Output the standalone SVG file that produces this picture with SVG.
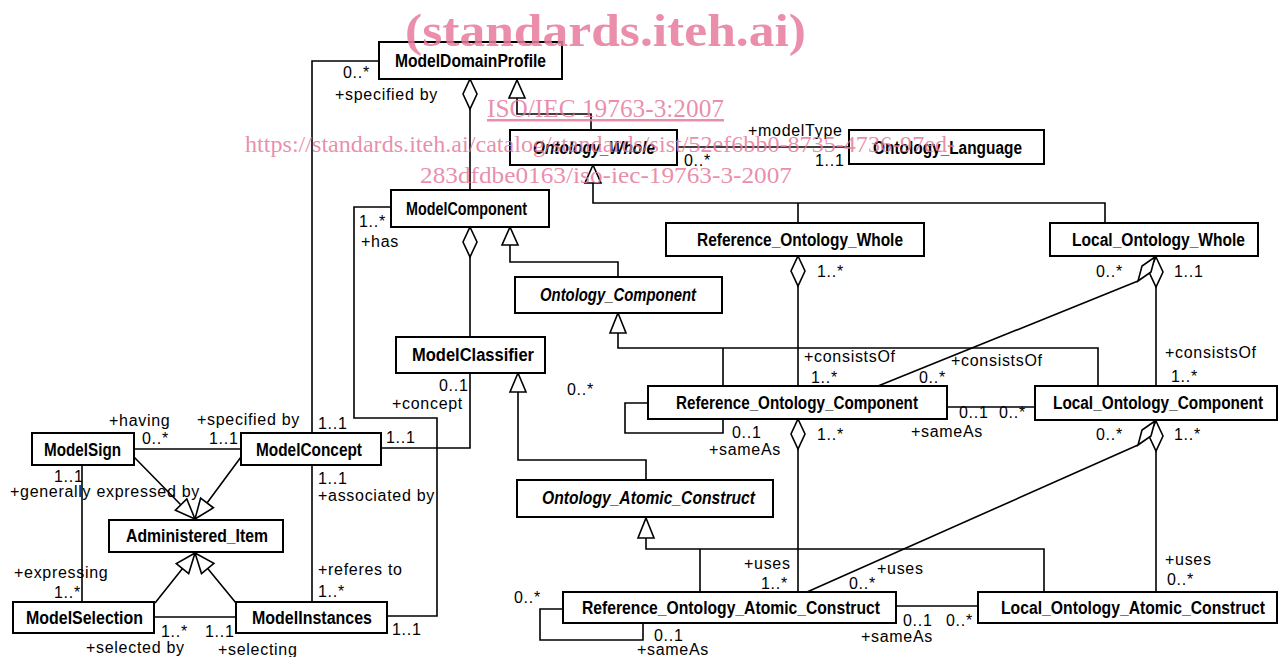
<svg xmlns="http://www.w3.org/2000/svg" width="1288" height="657" viewBox="0 0 1288 657">
<style>
.box{fill:#fff;stroke:#000;stroke-width:2}
.nt{font-family:"Liberation Sans",Arial,sans-serif;font-size:18px;font-weight:bold;fill:#000;text-anchor:start}
.it{font-style:italic}
.lb{font-family:"Liberation Sans",Arial,sans-serif;font-size:16px;letter-spacing:0.7px;fill:#000}
.ln{fill:none;stroke:#000;stroke-width:1.6}
.hd{fill:#fff;stroke:#000;stroke-width:1.6;stroke-linejoin:miter}
.wm{font-family:"Liberation Serif","Times New Roman",serif;fill:#e77a9c;fill-opacity:0.85}
</style>
<rect width="1288" height="657" fill="#fff"/>
<g id="connectors">
<path class="ln" d="M379,61 H312 V433"/>
<path class="ln" d="M470,109 V190"/>
<path class="ln" d="M517,98 V114 H591 V130"/>
<path class="ln" d="M593,183 V203 H1105 V223 M798,203 V223"/>
<path class="ln" d="M677,147 H849"/>
<path class="ln" d="M510,245 V262 H618 V277"/>
<path class="ln" d="M470,257 V337"/>
<path class="ln" d="M391,207 H354 V418 H437 V616 H387"/>
<path class="ln" d="M470,373 V448 H381"/>
<path class="ln" d="M312,465 V602"/>
<path class="ln" d="M134,449 H241"/>
<path class="ln" d="M134,457 L181,505 M241,457 L207,503 M155,603 L182.5,568.6 M236,603 L207.7,568.5"/>
<path class="ln" d="M82,465 V602"/>
<path class="ln" d="M154,617 H236"/>
<path class="ln" d="M518,392 V460 H646 V480"/>
<path class="ln" d="M618,333 V348 H1098 V386 M723,348 V386"/>
<path class="ln" d="M798,286 V386"/>
<path class="ln" d="M1156,287 V386"/>
<path class="ln" d="M1138,281 L878,386"/>
<path class="ln" d="M648,403 H625 V433 H723 V419"/>
<path class="ln" d="M947,407 H1035"/>
<path class="ln" d="M798,449 V592"/>
<path class="ln" d="M1156,451 V592"/>
<path class="ln" d="M1138,445 L807,592"/>
<path class="ln" d="M646,538 V549 H1044 V592 M700,549 V592"/>
<path class="ln" d="M563,609 H540 V640 H643 V623"/>
<path class="ln" d="M896,606 H978"/>
<path class="hd" d="M470,79 L477,94 L470,109 L463,94 Z"/>
<path class="hd" d="M517,80 L525,98 L509,98 Z"/>
<path class="hd" d="M593,165 L601,183 L585,183 Z"/>
<path class="hd" d="M510,227 L518,245 L502,245 Z"/>
<path class="hd" d="M470,227 L477,242 L470,257 L463,242 Z"/>
<path class="hd" d="M195,519 L175.4,510.2 L186.8,499 Z"/>
<path class="hd" d="M195,519 L213.4,507.8 L200.6,498.2 Z"/>
<path class="hd" d="M195,553 L188.7,573.6 L176.3,563.6 Z"/>
<path class="hd" d="M195,553 L213.9,563.4 L201.5,573.6 Z"/>
<path class="hd" d="M518,373 L526,392 L510,392 Z"/>
<path class="hd" d="M618,313 L626,333 L610,333 Z"/>
<path class="hd" d="M798,256 L805,271 L798,286 L791,271 Z"/>
<path class="hd" d="M1156,257 L1163,272 L1156,287 L1149,272 Z"/>
<path class="hd" d="M1155,257 L1151,272 L1138,281 L1142,266 Z"/>
<path class="hd" d="M798,419 L805,434 L798,449 L791,434 Z"/>
<path class="hd" d="M1156,421 L1163,436 L1156,451 L1149,436 Z"/>
<path class="hd" d="M1155,421 L1151,436 L1138,445 L1142,430 Z"/>
<path class="hd" d="M646,518 L654,538 L638,538 Z"/>
</g>
<g id="labels">
<text class="lb" x="343" y="78">0..*</text>
<text class="lb" x="335" y="100">+specified by</text>
<text class="lb" x="748" y="136">+modelType</text>
<text class="lb" x="684" y="166">0..*</text>
<text class="lb" x="815" y="166">1..1</text>
<text class="lb" x="359" y="227">1..*</text>
<text class="lb" x="361" y="247">+has</text>
<text class="lb" x="817" y="277">1..*</text>
<text class="lb" x="1096" y="277">0..*</text>
<text class="lb" x="1174" y="277">1..1</text>
<text class="lb" x="804" y="362">+consistsOf</text>
<text class="lb" x="811" y="383">1..*</text>
<text class="lb" x="951" y="366">+consistsOf</text>
<text class="lb" x="919" y="383">0..*</text>
<text class="lb" x="1165" y="358">+consistsOf</text>
<text class="lb" x="1171" y="382">1..*</text>
<text class="lb" x="567" y="395">0..*</text>
<text class="lb" x="439" y="391">0..1</text>
<text class="lb" x="392" y="409">+concept</text>
<text class="lb" x="109" y="426">+having</text>
<text class="lb" x="197" y="425">+specified by</text>
<text class="lb" x="318" y="429">1..1</text>
<text class="lb" x="142" y="444">0..*</text>
<text class="lb" x="209" y="444">1..1</text>
<text class="lb" x="386" y="443">1..1</text>
<text class="lb" x="732" y="438">0..1</text>
<text class="lb" x="709" y="455">+sameAs</text>
<text class="lb" x="817" y="440">1..*</text>
<text class="lb" x="959" y="418">0..1</text>
<text class="lb" x="999" y="418">0..*</text>
<text class="lb" x="911" y="437">+sameAs</text>
<text class="lb" x="1096" y="440">0..*</text>
<text class="lb" x="1174" y="440">1..*</text>
<text class="lb" x="54" y="482">1..1</text>
<text class="lb" x="10" y="497">+generally expressed by</text>
<text class="lb" x="318" y="484">1..1</text>
<text class="lb" x="318" y="501">+associated by</text>
<text class="lb" x="14" y="578">+expressing</text>
<text class="lb" x="54" y="598">1..*</text>
<text class="lb" x="318" y="575">+referes to</text>
<text class="lb" x="318" y="597">1..*</text>
<text class="lb" x="744" y="569">+uses</text>
<text class="lb" x="761" y="589">1..*</text>
<text class="lb" x="877" y="574">+uses</text>
<text class="lb" x="849" y="589">0..*</text>
<text class="lb" x="1165" y="565">+uses</text>
<text class="lb" x="1167" y="585">0..*</text>
<text class="lb" x="514" y="603">0..*</text>
<text class="lb" x="903" y="626">0..1</text>
<text class="lb" x="946" y="626">0..*</text>
<text class="lb" x="861" y="642">+sameAs</text>
<text class="lb" x="654" y="641">0..1</text>
<text class="lb" x="637" y="655">+sameAs</text>
<text class="lb" x="161" y="637">1..*</text>
<text class="lb" x="205" y="637">1..1</text>
<text class="lb" x="392" y="635">1..1</text>
<text class="lb" x="86" y="653">+selected by</text>
<text class="lb" x="218" y="655">+selecting</text>
</g>
<g id="ModelDomainProfile"><rect class="box" x="379" y="42" width="183" height="37"/><text class="nt" x="395" y="67" textLength="151" lengthAdjust="spacingAndGlyphs">ModelDomainProfile</text></g>
<g id="Ontology_Whole"><rect class="box" x="510" y="130" width="167" height="35"/><text class="nt it" x="533" y="154" textLength="122" lengthAdjust="spacingAndGlyphs">Ontology_Whole</text></g>
<g id="Ontology_Language"><rect class="box" x="849" y="130" width="195" height="34"/><text class="nt" x="873" y="154" textLength="149" lengthAdjust="spacingAndGlyphs">Ontology_Language</text></g>
<g id="ModelComponent"><rect class="box" x="391" y="190" width="158" height="37"/><text class="nt" x="406" y="215" textLength="121" lengthAdjust="spacingAndGlyphs">ModelComponent</text></g>
<g id="Reference_Ontology_Whole"><rect class="box" x="666" y="223" width="258" height="33"/><text class="nt" x="697" y="246" textLength="206" lengthAdjust="spacingAndGlyphs">Reference_Ontology_Whole</text></g>
<g id="Local_Ontology_Whole"><rect class="box" x="1050" y="223" width="208" height="33"/><text class="nt" x="1072" y="246" textLength="173" lengthAdjust="spacingAndGlyphs">Local_Ontology_Whole</text></g>
<g id="Ontology_Component"><rect class="box" x="515" y="277" width="207" height="36"/><text class="nt it" x="540" y="301" textLength="156" lengthAdjust="spacingAndGlyphs">Ontology_Component</text></g>
<g id="ModelClassifier"><rect class="box" x="396" y="337" width="149" height="36"/><text class="nt" x="412" y="361" textLength="122" lengthAdjust="spacingAndGlyphs">ModelClassifier</text></g>
<g id="Reference_Ontology_Component"><rect class="box" x="648" y="386" width="299" height="33"/><text class="nt" x="676" y="409" textLength="242" lengthAdjust="spacingAndGlyphs">Reference_Ontology_Component</text></g>
<g id="Local_Ontology_Component"><rect class="box" x="1035" y="386" width="242" height="34"/><text class="nt" x="1053" y="409" textLength="210" lengthAdjust="spacingAndGlyphs">Local_Ontology_Component</text></g>
<g id="ModelSign"><rect class="box" x="32" y="433" width="102" height="32"/><text class="nt" x="44" y="456" textLength="77" lengthAdjust="spacingAndGlyphs">ModelSign</text></g>
<g id="ModelConcept"><rect class="box" x="241" y="433" width="140" height="32"/><text class="nt" x="256" y="456" textLength="106" lengthAdjust="spacingAndGlyphs">ModelConcept</text></g>
<g id="Administered_Item"><rect class="box" x="109" y="520" width="174" height="32"/><text class="nt" x="126" y="542" textLength="142" lengthAdjust="spacingAndGlyphs">Administered_Item</text></g>
<g id="Ontology_Atomic_Construct"><rect class="box" x="517" y="480" width="256" height="37"/><text class="nt it" x="542" y="504" textLength="213" lengthAdjust="spacingAndGlyphs">Ontology_Atomic_Construct</text></g>
<g id="ModelSelection"><rect class="box" x="13" y="602" width="141" height="31"/><text class="nt" x="26" y="624" textLength="117" lengthAdjust="spacingAndGlyphs">ModelSelection</text></g>
<g id="ModelInstances"><rect class="box" x="236" y="602" width="151" height="31"/><text class="nt" x="252" y="624" textLength="120" lengthAdjust="spacingAndGlyphs">ModelInstances</text></g>
<g id="Reference_Ontology_Atomic_Construct"><rect class="box" x="563" y="592" width="333" height="31"/><text class="nt" x="582" y="614" textLength="298" lengthAdjust="spacingAndGlyphs">Reference_Ontology_Atomic_Construct</text></g>
<g id="Local_Ontology_Atomic_Construct"><rect class="box" x="978" y="592" width="299" height="31"/><text class="nt" x="1001" y="614" textLength="264" lengthAdjust="spacingAndGlyphs">Local_Ontology_Atomic_Construct</text></g>
<g id="watermark">
<text class="wm" x="405" y="46" font-size="46" font-weight="bold" textLength="401" lengthAdjust="spacingAndGlyphs">(standards.iteh.ai)</text>
<text class="wm" x="487" y="117" font-size="25" text-decoration="underline" textLength="237" lengthAdjust="spacingAndGlyphs">ISO/IEC 19763-3:2007</text>
<text class="wm" x="245" y="152" font-size="24" textLength="710" lengthAdjust="spacingAndGlyphs">https://standards.iteh.ai/catalog/standards/sist/52ef6bb0-8735-4736-97ed-</text>
<text class="wm" x="420" y="183" font-size="24" textLength="372" lengthAdjust="spacingAndGlyphs">283dfdbe0163/iso-iec-19763-3-2007</text>
</g>
</svg>
